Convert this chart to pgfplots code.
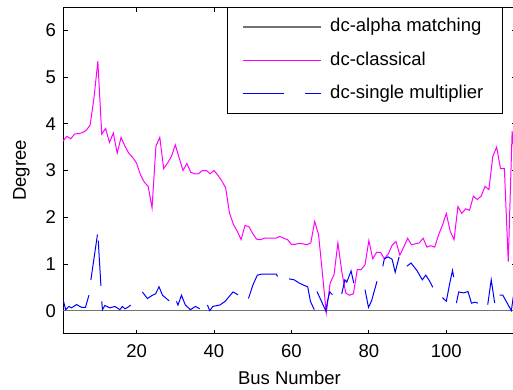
\documentclass[border=0pt]{standalone}
\usepackage{pgfplots}
\pgfplotsset{compat=1.18}
\usepackage{pgfplotstable}
\usepackage{fontspec}
\setmainfont{Liberation Sans}
\definecolor{mag}{RGB}{255,0,255}
\definecolor{blu}{RGB}{0,0,255}

\pgfplotstableread{
bus val
1 3.63
2 3.73
3 3.68
4 3.78
5 3.79
6 3.81
7 3.86
8 3.97
9 4.55
10 5.34
11 3.78
12 3.90
13 3.60
14 3.80
15 3.37
16 3.71
17 3.52
18 3.37
19 3.28
20 3.16
21 2.91
22 2.75
23 2.66
24 2.20
25 3.52
26 3.71
27 3.04
28 3.16
29 3.30
30 3.55
31 3.27
32 3.00
33 3.15
34 2.96
35 2.93
36 2.93
37 3.00
38 3.00
39 2.93
40 3.00
41 2.90
42 2.78
43 2.63
44 2.09
45 1.85
46 1.70
47 1.52
48 1.82
49 1.80
50 1.65
51 1.53
52 1.52
53 1.55
54 1.55
55 1.55
56 1.55
57 1.59
58 1.55
59 1.52
60 1.42
61 1.42
62 1.44
63 1.43
64 1.41
65 1.45
66 1.91
67 1.63
68 0.80
69 -0.05
70 0.59
71 0.77
72 1.45
73 0.84
74 0.38
75 0.33
76 0.36
77 0.88
78 0.88
79 0.98
80 1.50
81 1.11
82 1.25
83 1.25
84 1.11
85 1.21
86 1.40
87 1.48
88 1.19
89 1.36
90 1.55
91 1.41
92 1.43
93 1.45
94 1.55
95 1.36
96 1.39
97 1.36
98 1.62
99 1.83
100 2.08
101 1.70
102 1.52
103 2.23
104 2.08
105 2.18
106 2.15
107 2.45
108 2.38
109 2.45
110 2.66
111 2.59
112 3.30
113 3.50
114 3.04
115 3.04
116 1.05
117 3.84
118 2.90
}\classical

\pgfplotstableread{
bus val
1.1 0.21
1.7 0.02
2.5 0.09
3.2 0.06
4.5 0.13
5.8 0.07
6.8 0.07
7.7 0.33
8.0 nan
8.2 0.66
9.9 1.63
10.0 nan
10.1 1.50
10.8 0.53
10.9 nan
11.0 0.20
11.2 0.02
11.8 0.11
13.1 0.06
14.4 0.09
15.7 0.02
16.3 0.09
17.0 0.04
17.7 0.07
18.5 0.12
20.0 nan
21.5 0.40
22.8 0.26
24.1 0.33
24.9 0.36
25.8 0.51
26.7 0.33
28.4 0.21
29.0 nan
30.3 0.20
30.7 0.12
31.6 0.33
32.6 0.12
33.9 0.02
35.2 0.09
36.3 0.04
37.0 nan
38.3 0.12
38.9 0.00
39.7 0.09
41.5 0.12
42.9 0.20
44.0 0.31
44.9 0.40
46.2 0.34
47.0 nan
48.9 0.26
50.1 0.56
51.2 0.76
52.2 0.78
56.1 0.78
56.4 0.73
58.0 nan
59.4 0.68
60.7 0.66
62.0 0.59
63.3 0.54
64.2 0.51
64.9 0.20
65.9 0.02
66.2 nan
66.6 0.41
68.9 -0.01
69.3 0.20
69.9 0.40
70.6 0.34
71.5 nan
73.0 0.36
73.8 0.66
74.3 0.61
75.4 0.85
76.1 0.59
77.0 nan
79.0 0.45
79.9 0.07
80.7 0.21
82.1 0.63
83.0 nan
83.6 0.95
84.0 1.11
85.0 1.15
86.0 1.10
86.8 0.82
87.8 1.15
88.5 nan
89.8 0.95
90.9 1.02
92.4 0.86
93.8 0.66
94.7 0.76
95.7 0.63
96.5 0.50
97.5 nan
99.0 0.28
100.0 0.20
100.9 0.59
101.6 0.86
101.9 0.72
102.2 nan
102.6 0.16
103.2 0.40
104.5 0.38
105.6 0.41
106.5 0.16
107.4 0.18
108.2 0.16
109.5 nan
110.7 0.13
111.6 0.66
112.5 0.16
113.0 nan
113.8 0.33
114.6 0.33
116.8 0.00
117.3 0.30
}\single

\begin{document}
\fontsize{18.5bp}{22bp}\selectfont
\begin{tikzpicture}
\useasboundingbox (0,0) rectangle (513bp,390bp);
\begin{axis}[
  at={(63bp,56bp)}, anchor=south west,
  scale only axis, width=453bp, height=327bp,
  xmin=1, xmax=118, ymin=-0.5, ymax=6.5,
  xtick={20,40,60,80,100}, ytick={0,1,2,3,4,5,6},
  /pgf/number format/assume math mode=true,
  tick align=inside, major tick length=4.5bp,
  every tick/.style={black, line width=0.8bp},
  axis line style={line width=1bp},
  xticklabel style={inner sep=0pt, yshift=-10bp},
  yticklabel style={inner sep=0pt, xshift=-7bp},
  xlabel={Bus Number}, ylabel={Degree},
  xlabel style={at={(axis description cs:0.5,-0.133)}, anchor=center, inner sep=0pt},
  ylabel style={at={(axis description cs:-0.0916,0.5)}, anchor=center, inner sep=0pt},
  legend style={at={(axis description cs:0.3614,1)}, anchor=north west,
    inner xsep=15bp, inner ysep=3bp, line width=1bp, draw=black, fill=white,
    nodes={inner xsep=4.5bp, inner ysep=7.9bp, text height=13.5bp, text depth=3.9bp},
    column sep=4bp, row sep=0pt},
  legend cell align=left,
  legend image code/.code={\draw[#1] (0bp,0bp) -- (78bp,0bp);},
  unbounded coords=jump,
]
\addplot[black!55, line width=1.5bp] coordinates {(1,0) (118,0)};
\addlegendentry{dc-alpha matching}
\addplot[mag, line width=1bp] table[x=bus, y=val] {\classical};
\addlegendentry{dc-classical}
\addplot[blu, line width=1bp, forget plot] table[x=bus, y=val] {\single};
\addlegendimage{blu, line width=1bp, dash pattern=on 41bp off 21bp}
\addlegendentry{dc-single multiplier}
\end{axis}
\end{tikzpicture}
\end{document}
